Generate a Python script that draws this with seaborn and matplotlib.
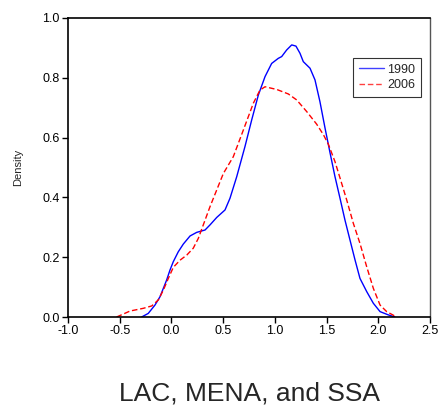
import matplotlib
matplotlib.use("Agg")
import matplotlib.pyplot as plt
import seaborn as sns
import pandas as pd

# 1990 density curve
x_1990 = [-0.288, -0.224, -0.159, -0.11, -0.078, -0.046, -0.014, 0.018, 0.066, 0.115, 0.18, 0.244,
          0.325, 0.373, 0.438, 0.518, 0.566, 0.631, 0.711, 0.776, 0.84, 0.905, 0.969, 1.033,
          1.066, 1.114, 1.163, 1.204, 1.243, 1.275, 1.34, 1.388, 1.436, 1.485, 1.533, 1.581,
          1.63, 1.678, 1.726, 1.775, 1.823, 1.888, 1.952, 2.017, 2.097, 2.16]
y_1990 = [0.0, 0.012, 0.04, 0.068, 0.096, 0.124, 0.157, 0.185, 0.218, 0.244, 0.271, 0.283,
          0.291, 0.308, 0.333, 0.358, 0.397, 0.469, 0.57, 0.659, 0.742, 0.804, 0.848, 0.865,
          0.871, 0.893, 0.91, 0.906, 0.882, 0.854, 0.832, 0.793, 0.72, 0.632, 0.55, 0.47,
          0.397, 0.324, 0.258, 0.191, 0.129, 0.085, 0.046, 0.018, 0.007, 0.0]

# 2006 density curve
x_2006 = [-0.53, -0.4, -0.272, -0.19, -0.127, -0.078, -0.03, 0.018, 0.083, 0.148, 0.211, 0.26,
          0.308, 0.373, 0.438, 0.502, 0.598, 0.695, 0.792, 0.856, 0.905, 1.018, 1.13, 1.211,
          1.308, 1.404, 1.469, 1.517, 1.581, 1.63, 1.695, 1.759, 1.823, 1.888, 1.952, 2.017,
          2.081, 2.178]
y_2006 = [0.0, 0.02, 0.029, 0.037, 0.057, 0.09, 0.129, 0.166, 0.19, 0.207, 0.23, 0.263,
          0.308, 0.369, 0.425, 0.48, 0.536, 0.625, 0.715, 0.759, 0.77, 0.761, 0.746, 0.726,
          0.687, 0.645, 0.61, 0.578, 0.52, 0.465, 0.391, 0.313, 0.246, 0.168, 0.096, 0.04,
          0.018, 0.0]

series_labels = ["1990", "2006"]
x_ticks = [-1.0, -0.5, 0.0, 0.5, 1.0, 1.5, 2.0, 2.5]
y_ticks = [0.0, 0.2, 0.4, 0.6, 0.8, 1.0]
title_text = "LAC, MENA, and SSA"
y_label = "Density"

sns.set_style("white")
plt.rcParams['font.family'] = ['Liberation Sans', 'DejaVu Sans']

fig = plt.figure(figsize=(4.4, 4.07), dpi=100)
ax = fig.add_axes([68/440, 1-317/407, (430-68)/440, (317-18)/407])

df1 = pd.DataFrame({"x": x_1990, "y": y_1990})
df2 = pd.DataFrame({"x": x_2006, "y": y_2006})
sns.lineplot(data=df1, x="x", y="y", ax=ax, color="#0000ff", lw=1.0, label=series_labels[0],
             sort=False, estimator=None, solid_joinstyle="round")
sns.lineplot(data=df2, x="x", y="y", ax=ax, color="#ff0000", lw=1.0, ls=(0, (4, 2)),
             label=series_labels[1], sort=False, estimator=None)

ax.set_xlim(-1.0, 2.5)
ax.set_ylim(0, 1.0)
ax.set_xticks(x_ticks)
ax.set_xticklabels([f"{t:.1f}" for t in x_ticks])
ax.set_yticks(y_ticks)
ax.set_yticklabels([f"{t:.1f}" for t in y_ticks])
ax.tick_params(axis='both', direction='out', length=4, width=1, labelsize=9, colors='black',
               bottom=True, left=True, top=False, right=False, pad=2)
ax.set_xlabel("")
ax.set_ylabel(y_label, fontsize=8, labelpad=14)
for s in ["left", "bottom", "top"]:
    ax.spines[s].set_color("black")
    ax.spines[s].set_linewidth(1.2)
ax.spines["right"].set_color("#555555")
ax.spines["right"].set_linewidth(1.0)

leg = ax.legend(loc="upper right", bbox_to_anchor=((421-68)/362, (317-58)/299),
                fontsize=9, frameon=True, fancybox=False, edgecolor="black",
                handlelength=2.0, borderpad=0.45, labelspacing=0.3, handletextpad=0.3,
                borderaxespad=0)
leg.get_frame().set_linewidth(0.8)
for h in leg.get_lines():
    h.set_alpha(0.75)

fig.text((68+430)/2/440, 1-401/407, title_text, fontsize=19, ha="center", va="baseline")

fig.savefig("out.png", dpi=100)
